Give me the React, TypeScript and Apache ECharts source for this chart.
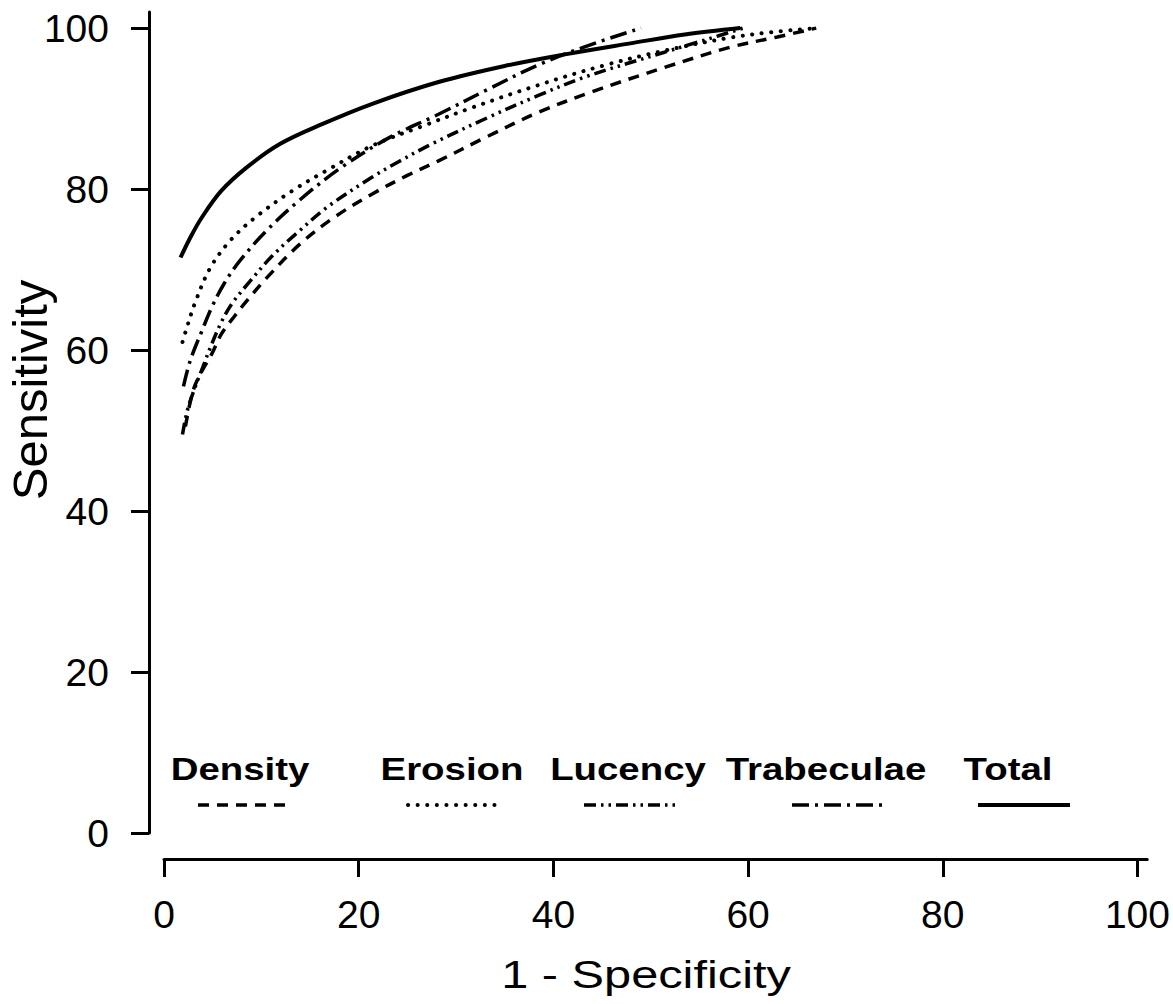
import React, { useEffect, useRef } from "react";
import * as echarts from "echarts";

// ---- data ----
const seriesNames = ["Density", "Erosion", "Lucency", "Trabeculae", "Total"];

const densityPts: [number, number][] = [
  [2.2, 50.5], [3.0, 55.0], [3.9, 57.4], [4.9, 59.5], [5.9, 62.0], [7.3, 64.3],
  [8.5, 66.1], [10.5, 68.9], [13.9, 73.1], [17.5, 76.5], [21.4, 79.4], [25.0, 81.7],
  [28.2, 83.5], [33.0, 86.4], [38.4, 89.5], [44.0, 92.1], [51.4, 95.1], [58.1, 97.6],
  [63.0, 98.9], [67.0, 100],
];
const erosionPts: [number, number][] = [
  [1.9, 61.0], [2.3, 62.6], [3.2, 65.9], [4.75, 70.2], [6.8, 73.6], [9.5, 76.6],
  [13.2, 79.8], [16.7, 82.3], [21.4, 85.4], [26.5, 87.8], [31.6, 90.1], [38.4, 92.9],
  [45.0, 95.3], [51.4, 97.2], [58.1, 98.8], [62.5, 99.5], [67.0, 100],
];
const lucencyPts: [number, number][] = [
  [1.9, 49.5], [2.4, 52.5], [3.2, 55.4], [4.0, 57.9], [4.75, 60.3], [5.9, 63.5],
  [7.0, 65.8], [8.8, 68.5], [11.2, 71.8], [13.9, 74.8], [16.7, 77.7], [21.4, 81.5],
  [24.1, 83.4], [27.5, 85.6], [33.3, 88.9], [38.4, 91.6], [43.2, 93.9], [51.4, 97.0],
  [55.5, 98.5], [59.5, 100],
];
const trabeculaePts: [number, number][] = [
  [2.0, 55.5], [2.7, 58.7], [3.9, 62.4], [4.9, 65.3], [6.2, 68.3], [7.8, 71.1],
  [10.5, 74.8], [13.9, 78.6], [18.0, 82.5], [23.0, 86.3], [28.2, 89.3], [33.3, 92.4],
  [38.4, 95.4], [43.5, 97.8], [49.0, 100],
];
const totalPts: [number, number][] = [
  [1.7, 71.5], [2.8, 74.2], [3.9, 76.5], [5.9, 79.8], [8.5, 82.7], [11.9, 85.6],
  [16.3, 88.1], [21.4, 90.6], [28.2, 93.3], [35.0, 95.3], [41.5, 96.8], [47.9, 98.1],
  [53.5, 99.2], [59.2, 100],
];

const xTicks = [0, 20, 40, 60, 80, 100];
const yTicks = [0, 20, 40, 60, 80, 100];
const xTitle = "1 - Specificity";
const yTitle = "Sensitivity";

// ---- styles ----
const FONT = "'Liberation Sans', Arial, Helvetica, sans-serif";
const lineStyles: { type: any; width: number; cap: string }[] = [
  { type: [11, 8], width: 3.5, cap: "butt" }, // Density dashed
  { type: [0.1, 9.5], width: 4, cap: "round" }, // Erosion dotted
  { type: [12, 5, 2.5, 5, 2.5, 5], width: 3.5, cap: "butt" }, // Lucency dash-dot-dot
  { type: [17, 6, 3, 6], width: 3.5, cap: "butt" }, // Trabeculae long dash-dot
  { type: "solid", width: 4, cap: "butt" }, // Total solid
];

// legend layout (pixels)
const legendTextX = [240, 452, 628, 826, 1008];
const legendLineX = [244, 454, 630, 838, 1024];
const legendTextY = 768.5;
const legendLineY = 805;
const legendHalfLen = 46;

export default function App() {
  const ref = useRef<HTMLDivElement>(null);

  useEffect(() => {
    document.body.style.margin = "0";
    const chart = echarts.init(ref.current!, undefined, { renderer: "svg" });
    const allData = [densityPts, erosionPts, lucencyPts, trabeculaePts, totalPts];

    const legendGraphics: any[] = [];
    seriesNames.forEach((name, i) => {
      legendGraphics.push({
        type: "text",
        x: legendTextX[i],
        y: legendTextY,
        scaleX: 1.2,
        style: {
          text: name,
          fontFamily: FONT,
          fontWeight: "bold",
          fontSize: 32,
          fill: "#000",
          align: "center",
          verticalAlign: "middle",
        },
      });
      const ls = lineStyles[i];
      legendGraphics.push({
        type: "line",
        shape: {
          x1: legendLineX[i] - legendHalfLen,
          y1: legendLineY,
          x2: legendLineX[i] + legendHalfLen,
          y2: legendLineY,
        },
        style: {
          stroke: "#000",
          lineWidth: ls.width,
          lineDash: ls.type === "solid" ? null : ls.type,
          lineCap: ls.cap,
        },
      });
    });

    chart.setOption({
      animation: false,
      backgroundColor: "#fff",
      grid: { left: 164, right: 20, top: 12, bottom: 171 },
      xAxis: {
        type: "value",
        min: 0,
        max: 101,
        offset: 26,
        splitLine: { show: false },
        axisLine: { show: true, onZero: false, lineStyle: { color: "#000", width: 3 } },
        axisTick: {
          show: true,
          length: 18,
          customValues: xTicks,
          lineStyle: { color: "#000", width: 3 },
        },
        axisLabel: {
          customValues: xTicks,
          fontSize: 39,
          color: "#000",
          fontFamily: FONT,
          margin: 36,
        },
      },
      yAxis: {
        type: "value",
        min: 0,
        max: 102,
        offset: 15,
        splitLine: { show: false },
        axisLine: { show: true, onZero: false, lineStyle: { color: "#000", width: 3 } },
        axisTick: {
          show: true,
          length: 18,
          customValues: yTicks,
          lineStyle: { color: "#000", width: 3 },
        },
        axisLabel: {
          customValues: yTicks,
          fontSize: 39,
          color: "#000",
          fontFamily: FONT,
          margin: 40,
        },
      },
      series: seriesNames.map((name, i) => ({
        name,
        type: "line",
        data: allData[i],
        showSymbol: false,
        smooth: 0.35,
        lineStyle: {
          color: "#000",
          width: lineStyles[i].width,
          type: lineStyles[i].type,
          cap: lineStyles[i].cap,
        },
      })),
      graphic: [
        {
          type: "text",
          x: 646,
          y: 974,
          scaleX: 1.25,
          style: {
            text: xTitle,
            fontFamily: FONT,
            fontSize: 39,
            fill: "#000",
            align: "center",
            verticalAlign: "middle",
          },
        },
        {
          type: "text",
          x: 30,
          y: 390,
          rotation: Math.PI / 2,
          style: {
            text: yTitle,
            fontFamily: FONT,
            fontSize: 49,
            fill: "#000",
            align: "center",
            verticalAlign: "middle",
          },
        },
        ...legendGraphics,
      ],
    });

    return () => chart.dispose();
  }, []);

  return (
    <div
      ref={ref}
      style={{ position: "absolute", left: 0, top: 0, width: 1173, height: 1004 }}
    />
  );
}
